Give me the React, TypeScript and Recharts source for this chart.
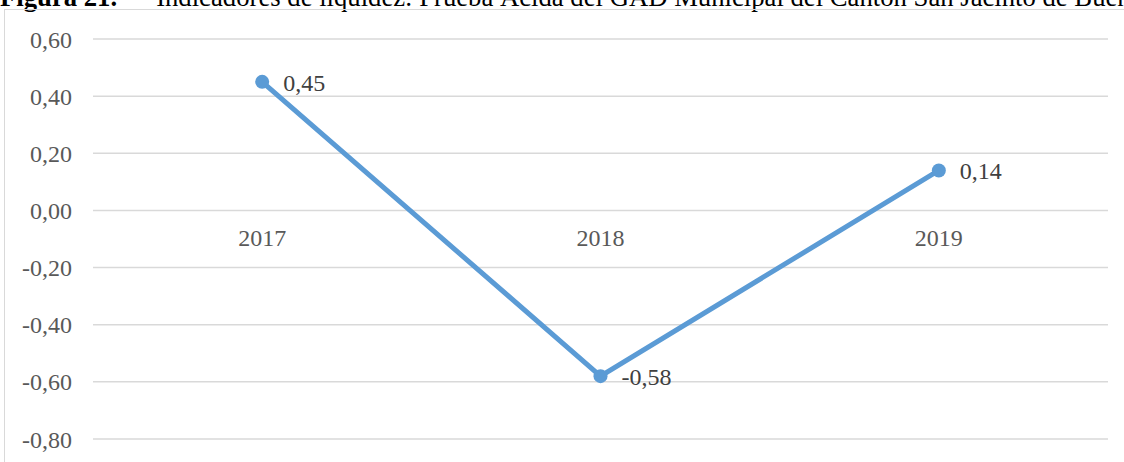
import { LineChart, Line, XAxis, YAxis, CartesianGrid, LabelList } from 'recharts';

const years = ['2017', '2018', '2019'];
const pruebaAcida = [0.45, -0.58, 0.14];
const yTicks = [-0.8, -0.6, -0.4, -0.2, 0, 0.2, 0.4, 0.6];

const data = years.map((year, i) => ({ year, value: pruebaAcida[i] }));

const W = 1124;
const H = 480;
const TOP = 39;
const PLOT_H = 400;
const Y_MIN = -0.8;
const Y_MAX = 0.6;
// category labels sit just under the zero line, like the Excel original
const ZERO_Y = TOP + (Y_MAX / (Y_MAX - Y_MIN)) * PLOT_H;

const FONT = '"Liberation Serif", "Times New Roman", serif';
const fmt = (v: number) => v.toFixed(2).replace('.', ',');

function CategoryTick({ x, payload }: any) {
  return (
    <text
      x={x}
      y={ZERO_Y + 36}
      textAnchor="middle"
      fill="#595959"
      fontSize={24}
      fontFamily={FONT}
    >
      {payload.value}
    </text>
  );
}

function ValueLabel({ x, y, value }: any) {
  return (
    <text x={x + 21} y={y + 9} fill="#404040" fontSize={24} fontFamily={FONT}>
      {fmt(Number(value))}
    </text>
  );
}

export default function App() {
  return (
    <div
      style={{
        position: 'absolute',
        left: 0,
        top: 0,
        width: W,
        height: 462,
        overflow: 'hidden',
        background: '#fff',
      }}
    >
      <div
        style={{
          position: 'absolute',
          left: 0,
          top: -16,
          whiteSpace: 'nowrap',
          fontFamily: FONT,
          fontSize: 26.7,
          lineHeight: '26.7px',
          color: '#000',
        }}
      >
        <b>Figura 21.</b>
        <span style={{ marginLeft: 39 }}>
          Indicadores de liquidez: Prueba Ácida del GAD Municipal del Cantón San Jacinto de Buena Fe
        </span>
      </div>
      <div
        style={{
          position: 'absolute',
          left: 4,
          top: 9,
          width: 1200,
          height: 500,
          border: '1px solid #d9d9d9',
          boxSizing: 'border-box',
        }}
      />
      <div style={{ position: 'absolute', left: 0, top: 0 }}>
        <LineChart
          width={W}
          height={H}
          data={data}
          margin={{ top: TOP, right: 16, left: 0, bottom: H - TOP - PLOT_H - 1 }}
        >
          <CartesianGrid vertical={false} stroke="#d9d9d9" strokeWidth={1.5} />
          <XAxis
            dataKey="year"
            scale="band"
            height={1}
            axisLine={false}
            tickLine={false}
            tick={<CategoryTick />}
            interval={0}
          />
          <YAxis
            width={93}
            domain={[Y_MIN, Y_MAX]}
            ticks={yTicks}
            axisLine={false}
            tickLine={false}
            tickSize={0}
            tickMargin={21}
            tickFormatter={fmt}
            tick={{ fill: '#595959', fontSize: 24, fontFamily: FONT }}
          />
          <Line
            type="linear"
            dataKey="value"
            stroke="#5B9BD5"
            strokeWidth={5}
            dot={{ r: 7, fill: '#5B9BD5', stroke: '#5B9BD5', strokeWidth: 0 }}
            activeDot={false}
            isAnimationActive={false}
          >
            <LabelList dataKey="value" content={<ValueLabel />} />
          </Line>
        </LineChart>
      </div>
    </div>
  );
}
